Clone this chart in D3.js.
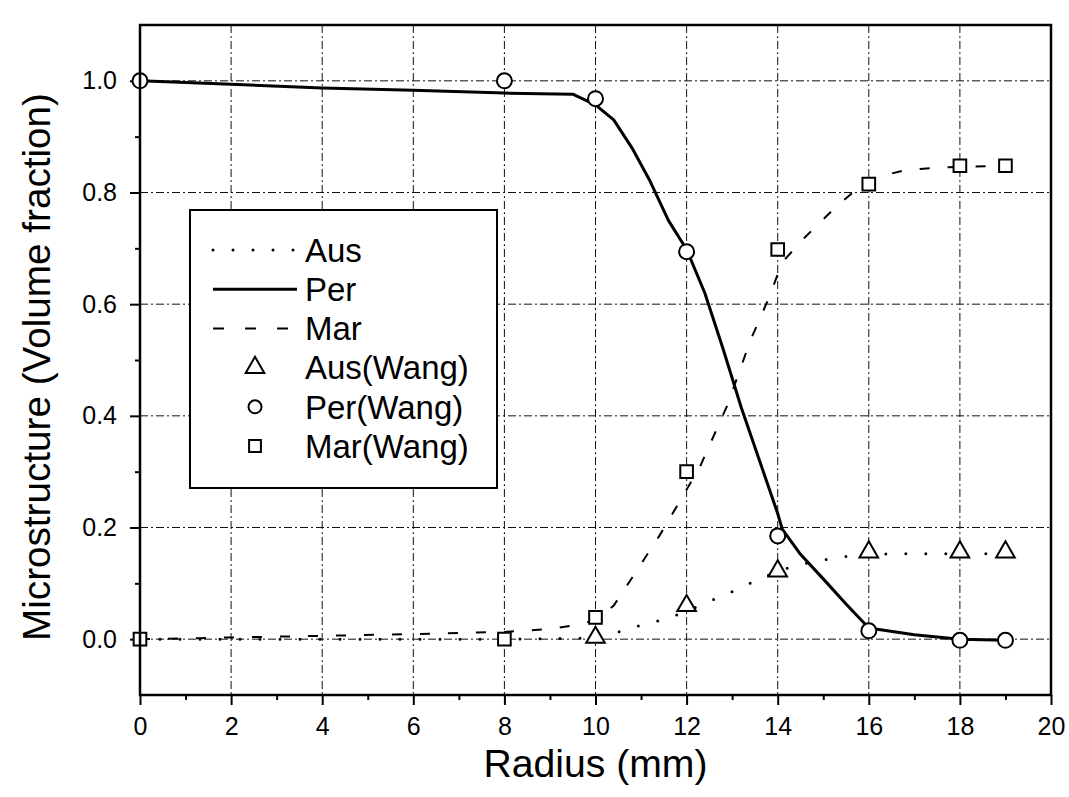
<!DOCTYPE html>
<html>
<head>
<meta charset="utf-8">
<script src="https://cdn.jsdelivr.net/npm/d3@7"></script>
<style>
  html, body { margin: 0; padding: 0; background: #fff; }
  svg { display: block; }
  text { font-family: "Liberation Sans", Arial, sans-serif; fill: #000; }
</style>
</head>
<body>
<svg id="chart" width="1069" height="797"></svg>
<script>
// ---- data ----
const xTicks = [0, 2, 4, 6, 8, 10, 12, 14, 16, 18, 20];
const xMinorTicks = [1, 3, 5, 7, 9, 11, 13, 15, 17, 19];
const yTicks = [0.0, 0.2, 0.4, 0.6, 0.8, 1.0];
const yMinorTicks = [0.1, 0.3, 0.5, 0.7, 0.9];

// model curves
const ausLineX = [0, 2, 4, 6, 8, 10, 10.5, 11, 11.5, 12, 12.5, 13, 13.5, 14, 14.5, 15, 15.5, 16, 17, 18, 19];
const ausLineY = [0, 0, 0, 0, 0, 0.002, 0.013, 0.025, 0.035, 0.05, 0.068, 0.085, 0.104, 0.122, 0.134, 0.142, 0.148, 0.152, 0.153, 0.153, 0.153];

const perLineX = [0, 2, 4, 6, 8, 9.5, 10, 10.4, 10.8, 11.2, 11.6, 12, 12.4, 12.8, 13.2, 13.6, 14, 14.1, 14.5, 15, 15.5, 16, 17, 18, 19];
const perLineY = [1.0, 0.994, 0.987, 0.983, 0.978, 0.976, 0.957, 0.93, 0.88, 0.82, 0.75, 0.698, 0.62, 0.52, 0.415, 0.32, 0.225, 0.197, 0.152, 0.108, 0.063, 0.02, 0.008, 0.0, -0.002];

const marLineX = [0, 2, 4, 6, 8, 9, 9.7, 10, 10.4, 10.9, 11.4, 11.8, 12.3, 12.9, 13.4, 13.8, 14.1, 14.6, 15.3, 16, 16.8, 17.6, 18.2, 19];
const marLineY = [0, 0.003, 0.006, 0.009, 0.013, 0.018, 0.027, 0.035, 0.06, 0.122, 0.185, 0.24, 0.31, 0.42, 0.535, 0.61, 0.675, 0.72, 0.776, 0.824, 0.84, 0.845, 0.846, 0.848];

// measured points (Wang)
const ausWangX = [10, 12, 14, 16, 18, 19];
const ausWangY = [0.003, 0.06, 0.122, 0.156, 0.156, 0.156];
const perWangX = [0, 8, 10, 12, 14, 16, 18, 19];
const perWangY = [1.0, 1.0, 0.968, 0.694, 0.185, 0.015, -0.002, -0.002];
const marWangX = [0, 8, 10, 12, 14, 16, 18, 19];
const marWangY = [0, 0, 0.039, 0.30, 0.698, 0.815, 0.848, 0.848];

const legendLabels = ["Aus", "Per", "Mar", "Aus(Wang)", "Per(Wang)", "Mar(Wang)"];
const xTitle = "Radius (mm)";
const yTitle = "Microstructure (Volume fraction)";

// ---- layout ----
const svg = d3.select("#chart");
svg.append("rect").attr("width", 1069).attr("height", 797).attr("fill", "#fff");

const L = 140, R = 1051, T = 25, B = 695;
const x = d3.scaleLinear().domain([0, 20]).range([L, R]);
const y = d3.scaleLinear().domain([-0.1, 1.1]).range([B, T]);

const zip = (xs, ys) => xs.map((v, i) => [v, ys[i]]);

// grid
const grid = svg.append("g").attr("stroke", "#111").attr("stroke-width", 1)
  .attr("stroke-dasharray", "8,3,2,3");
grid.selectAll("line.vx").data(xTicks.filter(d => d > 0 && d < 20)).join("line")
  .attr("x1", d => x(d)).attr("x2", d => x(d)).attr("y1", T).attr("y2", B);
grid.selectAll("line.hy").data(yTicks).join("line")
  .attr("x1", L).attr("x2", R).attr("y1", d => y(d)).attr("y2", d => y(d));

// axes
const fmt = d3.format(".1f");
const xAxis = svg.append("g").attr("transform", `translate(0,${B})`)
  .call(d3.axisBottom(x).tickValues(xTicks).tickSize(10).tickPadding(12).tickFormat(d3.format("d")));
const xMinor = svg.append("g").attr("transform", `translate(0,${B})`)
  .call(d3.axisBottom(x).tickValues(xMinorTicks).tickSize(5).tickFormat(""));
const yAxis = svg.append("g").attr("transform", `translate(${L},0)`)
  .call(d3.axisLeft(y).tickValues(yTicks).tickSize(10).tickPadding(13).tickFormat(fmt));
const yMinor = svg.append("g").attr("transform", `translate(${L},0)`)
  .call(d3.axisLeft(y).tickValues(yMinorTicks).tickSize(5).tickFormat(""));
[xAxis, xMinor, yAxis, yMinor].forEach(g => {
  g.select(".domain").remove();
  g.selectAll(".tick line").attr("stroke", "#000").attr("stroke-width", 2);
  g.selectAll("text").style("font-size", "25px").attr("fill", "#000");
});

// lines
const line = d3.line().x(d => x(d[0])).y(d => y(d[1]));
const lines = svg.append("g").attr("fill", "none").attr("stroke", "#000");
lines.append("path").datum(zip(ausLineX, ausLineY)).attr("d", line)
  .attr("stroke-width", 3).attr("stroke-dasharray", "0,20").attr("stroke-linecap", "round");
lines.append("path").datum(zip(marLineX, marLineY)).attr("d", line)
  .attr("stroke-width", 2).attr("stroke-dasharray", "10,18");
lines.append("path").datum(zip(perLineX, perLineY)).attr("d", line)
  .attr("stroke-width", 3).attr("stroke-linejoin", "round");

// markers
const triSym = d3.symbol().type(d3.symbolTriangle).size(150);
const sqSym = d3.symbol().type(d3.symbolSquare).size(160);
const mk = svg.append("g").attr("fill", "#fff").attr("stroke", "#000").attr("stroke-width", 2);
mk.selectAll("path.sq").data(zip(marWangX, marWangY)).join("path")
  .attr("d", sqSym).attr("transform", d => `translate(${x(d[0])},${y(d[1])})`);
mk.selectAll("path.tri").data(zip(ausWangX, ausWangY)).join("path")
  .attr("d", triSym).attr("transform", d => `translate(${x(d[0])},${y(d[1])})`);
mk.selectAll("circle").data(zip(perWangX, perWangY)).join("circle")
  .attr("cx", d => x(d[0])).attr("cy", d => y(d[1])).attr("r", 7.5);

// frame
svg.append("rect").attr("x", L).attr("y", T).attr("width", R - L).attr("height", B - T)
  .attr("fill", "none").attr("stroke", "#000").attr("stroke-width", 2.5);

// axis titles
svg.append("text").attr("x", (L + R) / 2).attr("y", 777).attr("text-anchor", "middle")
  .style("font-size", "38px").attr("textLength", 224).attr("lengthAdjust", "spacingAndGlyphs")
  .text(xTitle);
svg.append("text").attr("transform", `translate(50,367) rotate(-90)`)
  .attr("text-anchor", "middle").style("font-size", "38px")
  .attr("textLength", 548).attr("lengthAdjust", "spacingAndGlyphs")
  .text(yTitle);

// legend
const lg = svg.append("g");
lg.append("rect").attr("x", 190).attr("y", 210).attr("width", 307).attr("height", 278)
  .attr("fill", "#fff").attr("stroke", "#000").attr("stroke-width", 2);
const rowY = i => 250 + i * 39.2;
const sx1 = 213, sx2 = 297, mx = 255, tx = 305;
lg.append("line").attr("x1", sx1).attr("x2", sx2).attr("y1", rowY(0)).attr("y2", rowY(0))
  .attr("stroke", "#000").attr("stroke-width", 3).attr("stroke-dasharray", "0,20").attr("stroke-linecap", "round");
lg.append("line").attr("x1", sx1).attr("x2", sx2).attr("y1", rowY(1)).attr("y2", rowY(1))
  .attr("stroke", "#000").attr("stroke-width", 3);
lg.append("line").attr("x1", sx1).attr("x2", sx2).attr("y1", rowY(2)).attr("y2", rowY(2))
  .attr("stroke", "#000").attr("stroke-width", 2).attr("stroke-dasharray", "11,21");
lg.append("path").attr("d", triSym).attr("transform", `translate(${mx},${rowY(3)})`)
  .attr("fill", "#fff").attr("stroke", "#000").attr("stroke-width", 2);
lg.append("circle").attr("cx", mx).attr("cy", rowY(4)).attr("r", 6.5)
  .attr("fill", "#fff").attr("stroke", "#000").attr("stroke-width", 2);
lg.append("path").attr("d", d3.symbol().type(d3.symbolSquare).size(140)).attr("transform", `translate(${mx},${rowY(5)})`)
  .attr("fill", "#fff").attr("stroke", "#000").attr("stroke-width", 2);
lg.selectAll("text").data(legendLabels).join("text")
  .attr("x", tx).attr("y", (d, i) => rowY(i)).attr("dy", "0.36em")
  .style("font-size", "33px").text(d => d);
</script>
</body>
</html>
